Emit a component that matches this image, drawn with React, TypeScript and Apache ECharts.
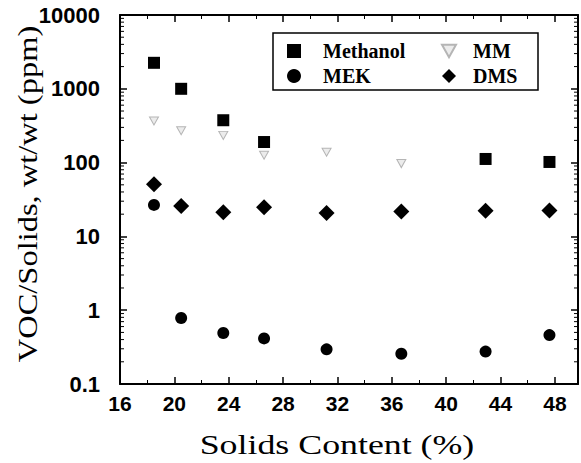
import React, { useEffect, useRef } from "react";
import * as echarts from "echarts";

// ---- data ----
const X_VALUES = [18.5, 20.5, 23.6, 26.6, 31.2, 36.7, 42.9, 47.6];
const METHANOL = [2250, 1000, 375, 190, null, null, 112, 102];
const MM = [366, 270, 234, 126, 138, 97, null, null];
const MEK = [26.7, 0.785, 0.49, 0.415, 0.295, 0.257, 0.275, 0.46];
const DMS = [51, 25.9, 21.2, 24.8, 20.8, 21.7, 22.2, 22.4];

const X_MIN = 16;
const X_MAX = 49.7;
const X_INTERVAL = 4;
const Y_MIN = 0.1;
const Y_MAX = 10000;
const Y_DECADES = [0.1, 1, 10, 100, 1000];
const Y_MINOR_MULT = [2, 3, 4, 5, 6, 7, 8, 9];

const X_TITLE = "Solids Content (%)";
const Y_TITLE = "VOC/Solids, wt/wt (ppm)";

function pairs(ys: (number | null)[]) {
  const out: number[][] = [];
  ys.forEach((y, i) => {
    if (y !== null) out.push([X_VALUES[i], y]);
  });
  return out;
}

const minorTicks: number[][] = [];
Y_DECADES.forEach((d) => Y_MINOR_MULT.forEach((m) => minorTicks.push([X_MIN, d * m])));

export default function App() {
  const ref = useRef<HTMLDivElement>(null);
  useEffect(() => {
    document.body.style.margin = "0";
    if (!ref.current) return;
    const chart = echarts.init(ref.current, null, { renderer: "svg" });
    const axisLine = { show: true, onZero: false, lineStyle: { color: "#000", width: 2 } };
    const tickStyle = { color: "#000", width: 1.5 };
    const labelFont = {
      fontFamily: "Liberation Sans",
      fontWeight: "bold" as const,
      fontSize: 21,
      color: "#000",
    };
    const legendText = {
      fontFamily: "Liberation Serif",
      fontWeight: "bold" as const,
      fontSize: 20,
      color: "#000",
      lineHeight: 20,
    };
    const xBase = {
      type: "value" as const,
      min: X_MIN,
      max: X_MAX,
      interval: X_INTERVAL,
      axisLine,
      axisTick: { show: true, inside: true, length: 7, lineStyle: tickStyle },
      minorTick: { show: true, splitNumber: 2, length: 4, lineStyle: { color: "#000", width: 1 } },
      splitLine: { show: false },
      minorSplitLine: { show: false },
    };
    const yBase = {
      type: "log" as const,
      logBase: 10,
      min: Y_MIN,
      max: Y_MAX,
      axisLine,
      axisTick: { show: true, inside: true, length: 7, lineStyle: tickStyle },
      splitLine: { show: false },
    };
    chart.setOption({
      animation: false,
      backgroundColor: "#fff",
      grid: { left: 120, top: 15, right: 3, bottom: 79, containLabel: false },
      xAxis: [
        {
          ...xBase,
          position: "bottom",
          axisLabel: {
            ...labelFont,
            margin: 9,
            formatter: (v: number) => (v % 4 === 0 && v <= 48 ? String(v) : ""),
          },
        },
        { ...xBase, position: "top", axisLabel: { show: false } },
      ],
      yAxis: [
        {
          ...yBase,
          position: "left",
          axisLabel: {
            ...labelFont,
            fontSize: 22,
            margin: 20,
            formatter: (v: number) => (v < 1 ? "0.1" : String(Math.round(v))),
          },
        },
        { ...yBase, position: "right", axisLabel: { show: false } },
      ],
      legend: [
        {
          data: ["Methanol", "MEK"],
          orient: "vertical",
          left: 287,
          top: 41,
          padding: 0,
          itemGap: 5,
          itemWidth: 14,
          itemHeight: 14,
          textStyle: { ...legendText, padding: [0, 0, 0, 17] },
        },
        {
          data: ["MM", "DMS"],
          orient: "vertical",
          left: 441,
          top: 41,
          padding: 0,
          itemGap: 5,
          itemWidth: 14,
          itemHeight: 14,
          textStyle: { ...legendText, padding: [0, 0, 0, 12] },
        },
      ],
      graphic: [
        {
          type: "rect",
          shape: { x: 273, y: 33, width: 265, height: 57 },
          style: { fill: "none", stroke: "#000", lineWidth: 1.5 },
          z: 1,
        },
        {
          type: "text",
          x: 337,
          y: 444,
          scaleX: 1.28,
          style: {
            text: X_TITLE,
            font: "28px 'Liberation Serif'",
            fill: "#000",
            textAlign: "center",
            textVerticalAlign: "middle",
          },
        },
        {
          type: "text",
          x: 28,
          y: 194,
          rotation: Math.PI / 2,
          scaleX: 1.16,
          style: {
            text: Y_TITLE,
            font: "28px 'Liberation Serif'",
            fill: "#000",
            textAlign: "center",
            textVerticalAlign: "middle",
          },
        },
      ],
      series: [
        {
          name: "minorTicks",
          type: "custom",
          silent: true,
          xAxisIndex: 0,
          yAxisIndex: 0,
          data: minorTicks,
          renderItem: (params: any, api: any) => {
            const cs = params.coordSys;
            const y = api.coord([api.value(0), api.value(1)])[1];
            return {
              type: "group",
              children: [
                {
                  type: "line",
                  shape: { x1: cs.x, y1: y, x2: cs.x + 4, y2: y },
                  style: { stroke: "#000", lineWidth: 1 },
                },
                {
                  type: "line",
                  shape: { x1: cs.x + cs.width, y1: y, x2: cs.x + cs.width - 4, y2: y },
                  style: { stroke: "#000", lineWidth: 1 },
                },
              ],
            };
          },
        },
        {
          name: "Methanol",
          type: "scatter",
          symbol: "rect",
          symbolSize: 12,
          itemStyle: { color: "#000", opacity: 1 },
          data: pairs(METHANOL),
        },
        {
          name: "MM",
          type: "scatter",
          symbol: "path://M0,0 L10,0 L5,9 Z",
          symbolSize: [9, 8],
          itemStyle: { color: "#ececec", borderColor: "#b5b5b5", borderWidth: 1, opacity: 1 },
          data: pairs(MM),
        },
        {
          name: "MEK",
          type: "scatter",
          symbol: "circle",
          symbolSize: 12,
          itemStyle: { color: "#000", opacity: 1 },
          data: pairs(MEK),
        },
        {
          name: "DMS",
          type: "scatter",
          symbol: "diamond",
          symbolSize: [16, 16],
          itemStyle: { color: "#000", opacity: 1 },
          data: pairs(DMS),
        },
      ],
    });
    return () => chart.dispose();
  }, []);
  return <div ref={ref} style={{ width: 581, height: 463 }} />;
}
